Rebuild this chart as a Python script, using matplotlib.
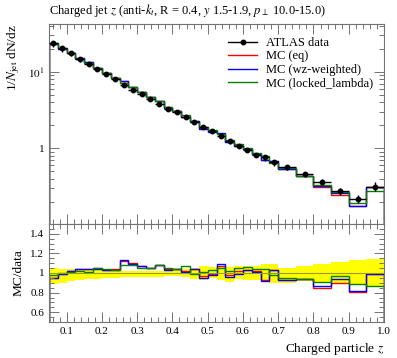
import numpy as np
import matplotlib
matplotlib.use('Agg')
import matplotlib.pyplot as plt
from matplotlib.ticker import FixedLocator, MultipleLocator, FuncFormatter, LogLocator, NullFormatter
from matplotlib.lines import Line2D

# ---------------- data ----------------
bin_edges = [0.05, 0.075, 0.1, 0.125, 0.15, 0.175, 0.2, 0.225, 0.25, 0.275, 0.3,
             0.325, 0.35, 0.375, 0.4, 0.425, 0.45, 0.475, 0.5, 0.525, 0.55, 0.575,
             0.6, 0.625, 0.65, 0.675, 0.7, 0.75, 0.8, 0.85, 0.9, 0.95, 1.0]

data = [23.9, 20.2, 17.4, 14.5, 12.7, 10.8, 9.33, 7.96, 6.70, 5.82, 5.12, 4.40,
        3.79, 3.29, 2.98, 2.54, 2.22, 1.90, 1.68, 1.45, 1.245, 1.08, 0.95, 0.825,
        0.763, 0.656, 0.575, 0.458, 0.366, 0.275, 0.216, 0.315]

# relative data uncertainty (up / down)
rel_err_up = [0.05, 0.045, 0.04, 0.035, 0.035, 0.03, 0.03, 0.025, 0.025, 0.025, 0.025,
              0.025, 0.025, 0.03, 0.03, 0.04, 0.05, 0.07, 0.06, 0.06, 0.06, 0.07,
              0.07, 0.07, 0.09, 0.09, 0.05, 0.07, 0.09, 0.11, 0.13, 0.14]
rel_err_dn = [0.11, 0.10, 0.08, 0.075, 0.065, 0.06, 0.055, 0.05, 0.045, 0.04, 0.04,
              0.04, 0.04, 0.035, 0.035, 0.04, 0.06, 0.07, 0.05, 0.07, 0.09, 0.06,
              0.07, 0.07, 0.09, 0.10, 0.10, 0.08, 0.09, 0.11, 0.11, 0.13]

ratio_eq = [0.95, 0.99, 1.02, 1.04, 1.04, 1.05, 1.03, 1.04, 1.12, 1.10, 1.07, 1.05,
            1.08, 1.04, 1.04, 1.02, 1.04, 0.97, 0.99, 1.07, 0.98, 1.02, 1.03, 1.02,
            0.93, 1.03, 0.93, 0.94, 0.85, 0.90, 0.81, 0.99]
ratio_wz = [0.95, 0.99, 1.02, 1.04, 1.04, 1.04, 1.03, 1.03, 1.13, 1.09, 1.07, 1.05,
            1.08, 1.03, 1.04, 1.01, 1.04, 0.95, 0.98, 1.09, 0.96, 0.99, 1.03, 1.01,
            0.92, 1.03, 0.93, 0.94, 0.87, 0.94, 0.82, 0.99]
ratio_ll = [0.98, 1.00, 1.01, 1.02, 1.01, 1.05, 1.04, 1.03, 1.08, 1.08, 1.05, 1.05,
            1.08, 1.05, 1.04, 1.07, 0.99, 1.01, 1.03, 1.05, 1.02, 1.05, 1.06, 1.04,
            1.04, 0.98, 0.95, 0.94, 0.91, 0.97, 0.89, 0.87]

labels = ["ATLAS data", "MC (eq)", "MC (wz-weighted)", "MC (locked_lambda)"]
colors = ["#ff0000", "#0000ff", "#008000"]

title = r"Charged jet $z$ (anti-$k_t$, R = 0.4, $y$ 1.5-1.9, $p_\perp$ 10.0-15.0)"
ylabel_main = r"1/$N_{\mathrm{jet}}$ dN/dz"
ylabel_ratio = "MC/data"
xlabel = r"Charged particle $z$"

# ---------------- derived ----------------
edges = np.array(bin_edges)
centers = 0.5 * (edges[1:] + edges[:-1])
halfw = 0.5 * (edges[1:] - edges[:-1])
d = np.array(data)
eu = np.array(rel_err_up)
ed = np.array(rel_err_dn)
ratios = [np.array(ratio_eq), np.array(ratio_wz), np.array(ratio_ll)]

plt.rcParams['font.family'] = ['Liberation Serif', 'DejaVu Serif']
plt.rcParams['mathtext.fontset'] = 'stix'

fig = plt.figure(figsize=(3.97, 3.58), dpi=100)
L, R = 49 / 397, 384 / 397
ax = fig.add_axes([L, (358 - 224) / 358, R - L, (224 - 24) / 358])
axr = fig.add_axes([L, (358 - 322) / 358, R - L, (322 - 224) / 358], sharex=ax)

framec = '0.45'
for a in (ax, axr):
    for s in a.spines.values():
        s.set_color(framec)
        s.set_linewidth(0.8)
    a.tick_params(which='both', direction='in', top=True, right=True, color=framec,
                  labelsize=8, width=0.7)
    a.tick_params(which='major', length=7)
    a.tick_params(which='minor', length=3.5)

# main panel
for r, c in zip(ratios, colors):
    ax.stairs(d * r, edges, color=c, lw=1.0)
ax.errorbar(centers, d, xerr=halfw, yerr=[d * ed, d * eu], fmt='o', color='black',
            ms=3.2, lw=1.0, capsize=0, zorder=5)
ax.set_yscale('log')
ax.set_ylim(0.103, 42)
ax.set_xlim(0.05, 1.0)
ax.yaxis.set_major_locator(LogLocator(base=10, numticks=10))
ax.yaxis.set_minor_locator(LogLocator(base=10, subs=np.arange(2, 10), numticks=20))
ax.yaxis.set_minor_formatter(NullFormatter())
ax.yaxis.set_major_formatter(FuncFormatter(lambda v, p: r"$10^{1}$" if abs(v - 10) < 1e-6 else ("1" if abs(v - 1) < 1e-6 else "")))
ax.xaxis.set_major_locator(MultipleLocator(0.1))
ax.xaxis.set_minor_locator(MultipleLocator(0.02))
plt.setp(ax.get_xticklabels(), visible=False)
ax.set_ylabel(ylabel_main, loc='top', fontsize=9.6)
ax.text(0.0, 1.025, title, transform=ax.transAxes, fontsize=9, ha='left', va='bottom')

# legend
handles = [Line2D([], [], color='black', marker='o', ms=3.2, lw=1.0)] + \
          [Line2D([], [], color=c, lw=1.0) for c in colors]
ax.legend(handles, labels, loc='upper left', bbox_to_anchor=(0.52, 0.96), frameon=False,
          fontsize=9, handlelength=2.3, handletextpad=0.7, labelspacing=0.12,
          borderaxespad=0.0)

# ratio panel
axr.fill_between(edges, np.r_[1 - ed, 1 - ed[-1]], np.r_[1 + eu, 1 + eu[-1]],
                 step='post', color='#ffff00', lw=0)
axr.axhline(1.0, color='#9a9a20', lw=0.8)
for r, c in zip(ratios, colors):
    axr.stairs(r, edges, color=c, lw=1.0)
axr.set_ylim(0.5, 1.5)
axr.yaxis.set_major_locator(FixedLocator([0.6, 0.8, 1.0, 1.2, 1.4]))
axr.yaxis.set_minor_locator(MultipleLocator(0.05))
axr.yaxis.set_major_formatter(FuncFormatter(lambda v, p: "%g" % round(v, 2)))
axr.xaxis.set_major_formatter(FuncFormatter(lambda v, p: "%.1f" % v))
axr.set_ylabel(ylabel_ratio, fontsize=9.6)
axr.set_xlabel(xlabel, loc='right', fontsize=9.6)

fig.savefig('out.png', dpi=100)
